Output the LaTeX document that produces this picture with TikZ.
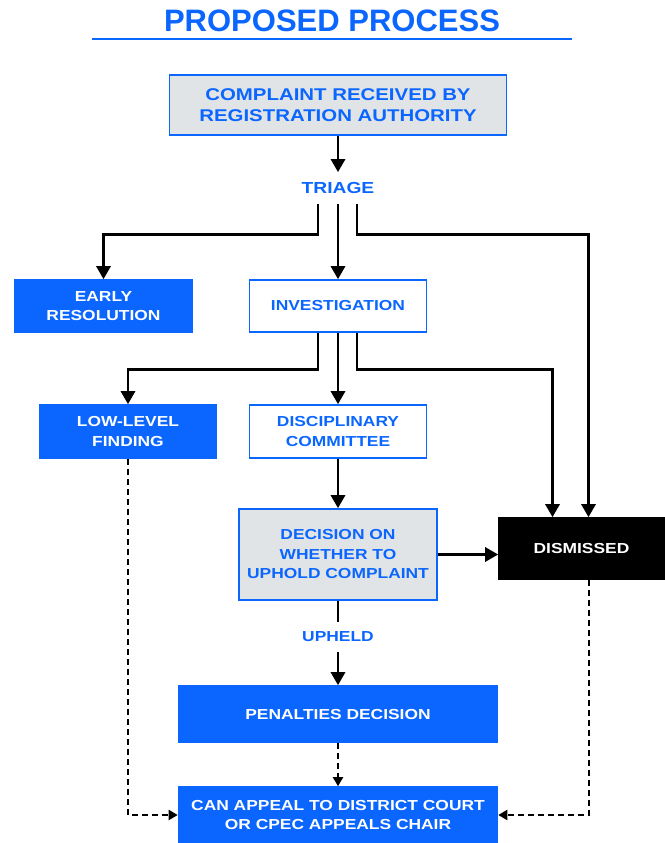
\documentclass[tikz,border=0pt]{standalone}
\usepackage{fontspec}
\setmainfont{Liberation Sans}
\newfontfamily\boxfont{Liberation Sans}[FakeStretch=1.2]
\usetikzlibrary{arrows.meta, positioning}
\definecolor{procblue}{HTML}{0A66FF}
\definecolor{procgrey}{HTML}{E1E4E7}

\begin{document}
\begin{tikzpicture}[x=1pt, y=-1pt,
    box/.style={draw=procblue, line width=1.6pt, align=center, inner sep=0pt,
        font=\boxfont\bfseries\fontsize{14.5}{19.5}\selectfont},
    greybox/.style={box, fill=procgrey, text=procblue},
    whitebox/.style={box, fill=white, text=procblue},
    bluebox/.style={box, fill=procblue, text=white},
    blackbox/.style={box, draw=black, fill=black, text=white},
    steplabel/.style={text=procblue, inner xsep=2pt, inner ysep=10pt,
        font=\boxfont\bfseries\fontsize{14.5}{19.5}\selectfont},
    link/.style={line width=2.9pt},
    arr/.style={link, -{Triangle[width=14pt,length=13pt]}},
    dasharr/.style={line width=2pt, dash pattern=on 6pt off 4pt,
        -{Triangle[width=10pt,length=9pt]}}]

    \useasboundingbox (0,0) rectangle (664,843);

    % heading
    \node[text=procblue, font=\bfseries\fontsize{31}{36}\selectfont] (title) at (332,21) {PROPOSED PROCESS};
    \draw[procblue, line width=1.8pt] (92,39) -- (572,39);

    % boxes
    \node[greybox, minimum width=337, minimum height=60, font=\boxfont\bfseries\fontsize{17}{21}\selectfont]
        (complaint) at (338,105) {COMPLAINT RECEIVED BY\\REGISTRATION AUTHORITY};
    \node[steplabel, font=\boxfont\bfseries\fontsize{16}{19}\selectfont] (triage) at (338,188) {TRIAGE};
    \node[bluebox, minimum width=177, minimum height=52] (early) at (103.5,306) {EARLY\\RESOLUTION};
    \node[whitebox, minimum width=177, minimum height=52] (investigation) at (338,306) {INVESTIGATION};
    \node[bluebox, minimum width=176, minimum height=53] (lowlevel) at (128,431.5) {LOW-LEVEL\\FINDING};
    \node[whitebox, minimum width=177, minimum height=53] (disciplinary) at (338,431.5) {DISCIPLINARY\\COMMITTEE};
    \node[greybox, minimum width=198, minimum height=91] (decision) at (338,554.5) {DECISION ON\\WHETHER TO\\UPHOLD COMPLAINT};
    \node[blackbox, minimum width=165, minimum height=61] (dismissed) at (581.5,548.5) {DISMISSED};
    \node[steplabel] (upheld) at (338,637) {UPHELD};
    \node[bluebox, minimum width=319, minimum height=56] (penalties) at (338,714) {PENALTIES DECISION};
    \node[bluebox, minimum width=319, minimum height=56] (appeal) at (338,815) {CAN APPEAL TO DISTRICT COURT\\OR CPEC APPEALS CHAIR};

    % solid connectors
    \draw[arr] (complaint) -- (triage);
    \draw[arr] ([xshift=-20pt]triage.south) -- ++(0,31) -| (early.north);
    \draw[arr] (triage) -- (investigation);
    \draw[arr] ([xshift=19pt]triage.south) -- ++(0,31) -| ([xshift=7pt]dismissed.north);

    \draw[arr] ([xshift=-20pt]investigation.south) -- ++(0,37) -| (lowlevel.north);
    \draw[arr] (investigation) -- (disciplinary);
    \draw[arr] ([xshift=19pt]investigation.south) -- ++(0,37) -| ([xshift=-29pt]dismissed.north);

    \draw[arr] (disciplinary) -- (decision);
    \draw[arr] (decision.east) -- (decision.east -| dismissed.west);
    \draw[link] (decision) -- (upheld);
    \draw[arr] (upheld) -- (penalties);

    % appeal routes
    \draw[dasharr] (penalties) -- (appeal);
    \draw[dasharr] (lowlevel) |- (appeal.west);
    \draw[dasharr] ([xshift=7pt]dismissed.south) |- (appeal.east);

\end{tikzpicture}
\end{document}
